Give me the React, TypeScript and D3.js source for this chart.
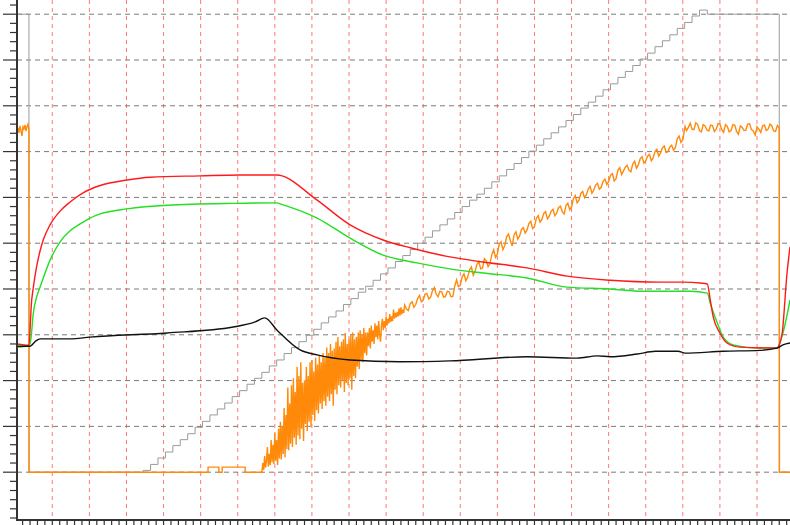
import React from "react";
import * as d3 from "d3";

type P = [number, number];

const W = 790;
const H = 525;

const gridX: number[] = [10, 20, 30, 40, 50, 60, 70, 80, 90, 100, 110, 120, 130, 140, 150, 160, 170, 180, 190, 200];
const gridY: number[] = [10, 20, 30, 40, 50, 60, 70, 80, 90, 100, 110];
const minorStep = 2;

const redSeries: P[] = [
  [0.5, 38.0], [3.7, 37.7], [4.0, 41.0], [4.3, 46.0], [4.9, 50.4], [5.8, 55.0], [6.7, 58.3], [7.6, 60.8],
  [9.4, 64.0], [12.1, 67.0], [14.8, 69.0], [18.3, 71.0], [22.9, 72.6], [30.2, 73.8],
  [36.4, 74.4], [49.8, 74.7], [60.6, 74.9], [70.6, 74.9], [71.4, 74.8], [81.4, 69.4], [90.3, 64.0],
  [99.2, 60.7], [106.5, 59.0], [117.2, 57.0], [126.1, 55.9], [138.0, 54.6], [148.8, 52.8], [160.4, 51.9],
  [173.9, 51.5], [180.1, 51.5], [184.7, 51.3], [186.6, 51.1], [187.4, 47.6], [188.2, 43.9], [190.0, 40.4],
  [191.9, 38.2], [195.4, 37.3], [205.4, 37.1], [206.0, 37.8], [206.8, 40.4], [208.1, 53.5], [208.9, 59.2],
];

const greenSeries: P[] = [
  [0.5, 37.3], [3.7, 37.6], [4.2, 38.9], [4.9, 44.8], [5.8, 48.3], [6.7, 50.4], [9.4, 56.3], [12.1, 60.3],
  [14.8, 62.7], [17.5, 64.2], [20.2, 65.5], [22.9, 66.4], [30.2, 67.5], [41.0, 68.3], [58.8, 68.7],
  [70.6, 68.8], [71.4, 68.6], [81.4, 65.5], [90.3, 61.1], [99.2, 57.4], [108.3, 55.7], [117.2, 54.4],
  [126.1, 53.5], [138.0, 52.4], [148.8, 50.4], [160.4, 50.0], [169.3, 49.5], [182.0, 49.5], [186.6, 49.1],
  [187.4, 46.9], [189.3, 42.6], [190.9, 39.5], [193.6, 37.8], [200.0, 37.1], [205.4, 37.1], [207.0, 40.4],
  [208.9, 47.6],
];

const blackSeries: P[] = [
  [0.5, 37.5], [4.0, 37.5], [5.5, 38.6], [6.7, 39.1], [14.8, 39.1], [20.2, 39.5], [41.0, 40.4], [58.8, 41.7],
  [64.7, 42.8], [67.3, 43.7], [70.6, 41.0], [76.8, 36.7], [81.4, 35.6], [90.3, 34.5], [103.7, 34.1],
  [117.2, 34.3], [138.0, 35.2], [151.5, 34.9], [156.9, 35.4], [160.4, 35.2], [167.7, 35.8], [172.6, 36.4],
  [178.7, 36.4], [180.6, 36.0], [190.9, 36.4], [200.8, 36.6], [205.4, 37.1], [207.0, 37.8], [208.9, 38.2],
];

const graySeries: P[] = [
  [0.5, 110.0], [3.7, 10.0], [34.5, 10.4], [36.5, 11.7], [38.5, 13.1], [40.5, 14.4], [42.5, 15.8], [44.5, 17.1],
  [46.5, 18.4], [48.5, 19.8], [50.5, 21.1], [52.5, 22.5], [54.5, 23.8], [56.5, 25.1], [58.5, 26.5], [60.5, 27.8],
  [62.5, 29.2], [64.5, 30.5], [66.5, 31.8], [68.5, 33.2], [70.5, 34.5], [72.5, 35.9], [74.5, 37.2], [76.5, 38.5],
  [78.5, 39.9], [80.5, 41.2], [82.5, 42.6], [84.5, 43.9], [86.5, 45.2], [88.5, 46.6], [90.5, 47.9], [92.5, 49.3],
  [94.5, 50.6], [96.5, 51.9], [98.5, 53.3], [100.5, 54.6], [102.5, 56.0], [104.5, 57.3], [106.5, 58.6],
  [108.5, 60.0], [110.5, 61.3], [112.5, 62.7], [114.5, 64.0], [116.5, 65.3], [118.5, 66.7], [120.5, 68.0],
  [122.5, 69.4], [124.5, 70.7], [126.5, 72.0], [128.5, 73.4], [130.5, 74.7], [132.5, 76.1], [134.5, 77.4],
  [136.5, 78.7], [138.5, 80.1], [140.5, 81.4], [142.5, 82.8], [144.5, 84.1], [146.5, 85.4], [148.5, 86.8],
  [150.5, 88.1], [152.5, 89.5], [154.5, 90.8], [156.5, 92.1], [158.5, 93.5], [160.5, 94.8], [162.5, 96.2],
  [164.5, 97.5], [166.5, 98.8], [168.5, 100.2], [170.5, 101.5], [172.5, 102.9], [174.5, 104.2], [176.5, 105.5],
  [178.5, 106.9], [180.5, 108.2], [182.5, 109.6], [184.5, 110.9], [186.6, 110.0], [206.0, 10.0], [208.9, 10.0],
];

const orangeSeries: P[] = [
  [0.49, 84.3], [0.75, 85.2], [1.02, 84.1], [1.29, 85.6], [1.56, 84.5], [1.83, 83.4], [2.1, 85.4], [2.37, 85.0],
  [2.64, 85.8], [2.91, 84.5], [3.18, 85.4], [3.45, 86.0], [3.72, 84.7], [3.75, 10.0],
  [52.0, 10.0], [52.0, 11.1], [54.9, 11.1], [54.9, 10.0], [55.8, 10.0], [55.8, 11.1], [62.0, 11.1], [62.0, 10.0],
  [66.5, 10.0], [66.75, 12.0], [67, 10.5], [67.25, 13.5], [67.5, 11.0], [67.75, 12.5], [68, 15.5], [68.25, 11.2],
  [68.5, 14.0], [68.75, 11.5], [69, 17.0], [69.25, 12.2], [69.5, 16.0], [69.75, 11.8], [70, 18.5], [70.25, 12.5],
  [70.5, 17.0], [70.75, 11.6], [71, 19.5], [71.25, 13.0], [71.5, 21.0], [71.75, 12.8], [72, 20.0], [72.25, 14.0],
  [72.5, 24.0], [72.75, 13.2], [73, 22.5], [73.25, 15.0], [73.5, 28.5], [73.75, 14.8], [74, 25.0], [74.25, 16.2],
  [74.5, 29.0], [74.75, 15.5], [75, 30.5], [75.25, 17.5], [75.5, 27.5], [75.75, 16.0], [76, 33.0], [76.25, 18.0],
  [76.5, 31.0], [76.75, 17.2], [77, 34.0], [77.25, 19.5], [77.5, 29.5], [77.75, 16.8], [78, 30.0], [78.25, 20.5],
  [78.5, 33.0], [78.75, 19.0], [79, 31.0], [79.25, 21.0], [79.5, 34.0], [79.75, 19.8], [80, 34.5], [80.25, 22.5],
  [80.5, 32.0], [80.75, 21.2], [81, 35.0], [81.25, 23.5], [81.5, 33.5], [81.75, 22.8], [82, 35.5], [82.25, 25.0],
  [82.5, 34.0], [82.75, 23.8], [83, 36.0], [83.25, 25.5], [83.5, 35.0], [83.75, 24.5], [84, 37.2], [84.25, 26.5],
  [84.5, 36.0], [84.75, 25.5], [85, 38.0], [85.25, 27.0], [85.5, 36.5], [85.75, 24.5], [86, 37.0], [86.25, 28.0],
  [86.5, 38.5], [86.75, 27.0], [87, 39.5], [87.25, 29.0], [87.5, 37.5], [87.75, 28.5], [88, 38.5], [88.25, 30.0],
  [88.5, 39.0], [88.75, 27.5], [89, 40.4], [89.25, 29.5], [89.5, 38.0], [89.75, 29.0], [90, 39.0], [90.25, 30.5],
  [90.5, 40.0], [90.75, 28.0], [91, 40.5], [91.25, 31.0], [91.5, 39.0], [91.75, 30.5], [92, 39.5], [92.25, 33.0],
  [92.5, 40.5], [92.75, 32.5], [93, 41.0], [93.25, 34.5], [93.5, 40.0], [93.75, 34.0], [94, 41.5], [94.25, 36.0],
  [94.5, 40.5], [94.75, 35.5], [95, 40.5], [95.25, 37.5], [95.5, 41.5], [95.75, 37.0], [96, 42.0], [96.25, 38.5],
  [96.5, 41.0], [96.75, 38.0], [97, 42.5], [97.25, 39.5], [97.5, 42.0], [97.75, 39.0], [98, 43.0], [98.25, 40.0],
  [98.5, 38.5], [98.75, 42.0], [99, 43.5], [99.25, 41.0], [99.5, 43.0], [99.75, 41.5], [100, 44.0], [100.25, 42.0],
  [100.5, 43.5], [100.75, 42.5], [101, 44.5], [101.25, 42.8], [101.5, 44.0], [101.75, 43.0], [102, 45.5],
  [102.25, 43.5], [102.5, 44.8], [102.75, 43.8], [103, 45.0], [103.25, 44.0], [103.5, 45.8], [103.75, 44.2],
  [104, 46.0], [104.25, 44.5], [104.5, 45.5], [104.75, 44.8], [105, 46.5],
  [105.5, 45.6], [106, 45.3], [106.5, 46.8], [107, 47.2], [107.5, 46.0], [108, 46.6], [108.5, 47.9], [109, 48.6],
  [109.5, 47.2], [110, 47.5], [110.5, 48.9], [111, 49.0], [111.5, 47.8], [112, 48.2], [112.5, 49.6], [113, 50.3],
  [113.5, 48.9], [114, 48.3], [114.5, 49.5], [115, 49.4], [115.5, 48.2], [116, 48.3], [116.5, 49.5], [117, 49.4],
  [117.5, 48.3], [118, 48.4], [118.5, 50.6], [119, 52.0], [119.5, 50.5], [120, 50.8], [120.5, 52.6], [121, 53.3],
  [121.5, 51.8], [122, 52.6], [122.5, 54.2], [123, 54.8], [123.5, 53.0], [124, 53.9], [124.5, 55.4], [125, 56.0],
  [125.5, 54.4], [126, 54.6], [126.5, 56.6], [127, 56.2], [127.5, 54.9], [128, 55.5], [128.5, 57.5], [129, 58.6],
  [129.5, 56.9], [130, 57.6], [130.5, 59.8], [131, 60.3], [131.5, 58.6], [132, 59.5], [132.5, 61.4], [133, 62.0],
  [133.5, 60.6], [134, 59.4], [134.5, 61.8], [135, 62.5], [135.5, 60.9], [136, 61.6], [136.5, 63.0], [137, 63.4],
  [137.5, 62.2], [138, 62.9], [138.5, 64.3], [139, 64.8], [139.5, 63.2], [140, 63.6], [140.5, 65.4], [141, 66.0],
  [141.5, 64.6], [142, 65.2], [142.5, 66.5], [143, 66.9], [143.5, 65.3], [144, 65.9], [144.5, 67.0], [145, 67.4],
  [145.5, 66.0], [146, 66.6], [146.5, 67.8], [147, 68.1], [147.5, 66.9], [148, 66.4], [148.5, 68.2], [149, 68.7],
  [149.5, 67.3], [150, 67.9], [150.5, 69.7], [151, 70.4], [151.5, 68.8], [152, 69.4], [152.5, 70.9], [153, 71.3],
  [153.5, 69.9], [154, 70.6], [154.5, 71.8], [155, 72.4], [155.5, 70.9], [156, 71.6], [156.5, 72.7], [157, 73.1],
  [157.5, 71.8], [158, 72.2], [158.5, 73.5], [159, 74.0], [159.5, 72.8], [160, 73.5], [160.5, 74.8], [161, 75.2],
  [161.5, 73.6], [162, 74.1], [162.5, 75.9], [163, 76.5], [163.5, 75.0], [164, 75.8], [164.5, 76.6], [165, 77.0],
  [165.5, 75.9], [166, 75.6], [166.5, 77.3], [167, 77.9], [167.5, 76.4], [168, 77.1], [168.5, 78.4], [169, 78.9],
  [169.5, 77.5], [170, 78.0], [170.5, 79.0], [171, 79.4], [171.5, 78.0], [172, 78.6], [172.5, 80.0], [173, 80.5],
  [173.5, 79.0], [174, 79.7], [174.5, 80.8], [175, 81.2], [175.5, 79.8], [176, 80.0], [176.5, 81.0], [177, 81.4],
  [177.5, 80.3], [178, 80.9], [178.5, 82.8], [179, 83.4], [179.5, 82.0], [180, 82.6], [180.6, 85.5], [181, 84.6],
  [181.5, 85.3], [182, 86.2], [182.5, 84.9], [183, 84.8], [183.5, 86.3], [184, 85.9], [184.5, 84.6], [185, 84.3],
  [185.5, 85.9], [186, 85.6], [186.5, 84.7], [187, 84.5], [187.5, 85.8], [188, 85.7], [188.5, 84.4], [189, 84.9],
  [189.5, 86.1], [190, 86.0], [190.5, 84.8], [191, 84.2], [191.5, 85.9], [192, 85.5], [192.5, 84.3], [193, 84.6],
  [193.5, 85.9], [194, 85.8], [194.5, 84.4], [195, 83.8], [195.5, 85.6], [196, 85.3], [196.5, 84.6], [197, 84.7],
  [197.5, 86.0], [198, 86.1], [198.5, 84.8], [199, 84.5], [199.5, 83.6], [200, 85.4], [200.5, 84.9], [201, 84.2],
  [201.5, 85.6], [202, 85.8], [202.5, 84.6], [203, 84.9], [203.5, 86.0], [204, 85.6], [204.5, 84.5], [205, 84.4],
  [205.5, 85.7], [206, 85.2], [206.05, 10.0], [208.9, 10.0],
];

export default function App() {
  const x = d3.scaleLinear().domain([0, 210]).range([15.2, 15.2 + 210 * 3.709]);
  const y = d3.scaleLinear().domain([-0.44, 113.1]).range([520, 0]);

  const smooth = d3.line<P>().x((d) => x(d[0])).y((d) => y(d[1])).curve(d3.curveMonotoneX);
  const linear = d3.line<P>().x((d) => x(d[0])).y((d) => y(d[1]));
  const step = d3.line<P>().x((d) => x(d[0])).y((d) => y(d[1])).curve(d3.curveStepAfter);

  const axisX = 17;
  const axisY = 520;
  const yMinor = d3.range(0, 113, minorStep);
  const xMinor = d3.range(2, 210, minorStep);

  return (
    <svg width={W} height={H} style={{ position: "absolute", left: 0, top: 0, background: "#fff" }}>
      <rect x={0} y={0} width={W} height={H} fill="#fff" />
      <g>
        {gridX.map((g) => (
          <line key={"gx" + g} x1={x(g)} x2={x(g)} y1={0} y2={axisY} stroke="#ff7878" strokeWidth={1} strokeDasharray="4,4" />
        ))}
        {gridY.map((g) => (
          <line key={"gy" + g} x1={axisX} x2={W} y1={y(g)} y2={y(g)} stroke="#7a7a7a" strokeWidth={1} strokeDasharray="5,4" />
        ))}
      </g>
      <path d={step(graySeries) || ""} fill="none" stroke="#9a9a9a" strokeWidth={1} />
      <path d={linear(orangeSeries) || ""} fill="none" stroke="#ff8a0a" strokeWidth={1.4} />
      <path d={smooth(greenSeries) || ""} fill="none" stroke="#22e022" strokeWidth={1.4} />
      <path d={smooth(redSeries) || ""} fill="none" stroke="#ff1a1a" strokeWidth={1.4} />
      <path d={smooth(blackSeries) || ""} fill="none" stroke="#111" strokeWidth={1.4} />
      <g>
        <line x1={axisX} x2={axisX} y1={0} y2={axisY + 1} stroke="#333" strokeWidth={2} />
        {yMinor.map((v) => {
          const major = v % 10 === 0 && v > 0;
          return (
            <line key={"yt" + v} x1={major ? 3 : 10} x2={axisX} y1={y(v)} y2={y(v)} stroke="#333" strokeWidth={1.2} />
          );
        })}
        <line x1={axisX - 1} x2={W} y1={axisY} y2={axisY} stroke="#333" strokeWidth={2} />
        {xMinor.map((v) => (
          <line key={"xt" + v} x1={x(v)} x2={x(v)} y1={axisY} y2={H} stroke="#333" strokeWidth={1.2} />
        ))}
      </g>
    </svg>
  );
}
